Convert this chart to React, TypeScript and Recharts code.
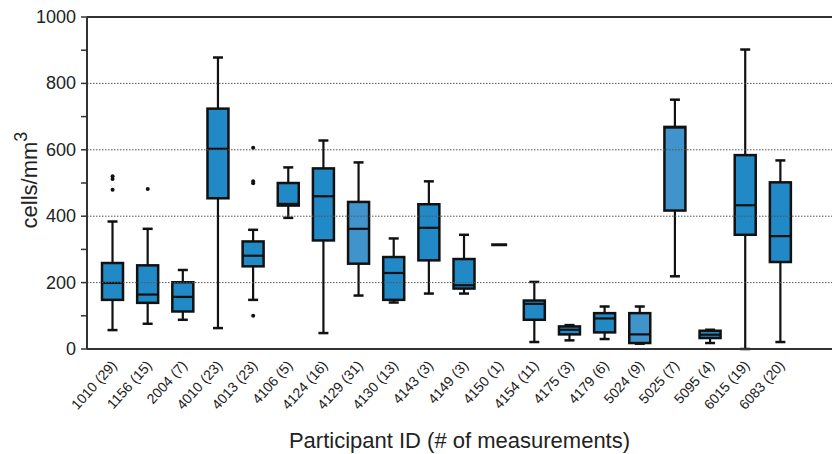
import {
  Bar,
  ComposedChart,
  Label,
  ReferenceLine,
  Scatter,
  XAxis,
  YAxis,
} from "recharts";

const FONT = '"Liberation Sans", Arial, sans-serif';
const BOX = "#2089c6";
const BOX_LIGHT = "#4094cb";

// one entry per participant: label shown as "id (n)"
const ids = ["1010", "1156", "2004", "4010", "4013", "4106", "4124", "4129", "4130", "4143",
  "4149", "4150", "4154", "4175", "4179", "5024", "5025", "5095", "6015", "6083"];
const counts = [29, 15, 7, 23, 23, 5, 16, 31, 13, 3, 3, 1, 11, 3, 6, 9, 7, 4, 19, 20];

const mins = [57, 76, 88, 63, 148, 395, 48, 161, 140, 167, 167, 313, 21, 26, 30, 16, 219, 18, 0, 21];
const q1s = [148, 139, 113, 454, 249, 432, 327, 257, 148, 267, 182, 314, 88, 44, 50, 18, 417, 33, 344, 262];
const medians = [199, 164, 157, 603, 281, 437, 460, 362, 229, 365, 192, 314, 136, 58, 92, 44, 667, 43, 433, 340];
const q3s = [259, 252, 201, 724, 324, 500, 544, 443, 277, 436, 271, 314, 146, 68, 108, 108, 669, 55, 584, 502];
const maxs = [384, 362, 238, 878, 359, 547, 628, 562, 333, 505, 344, 315, 202, 72, 128, 128, 751, 58, 902, 568];
const lighter = ["4129", "5024", "5025"];

// outliers (up to four per participant)
const outlierA = [520, 482, null, null, 606];
const outlierB = [512, null, null, null, 505];
const outlierC = [480, null, null, null, 499];
const outlierD = [null, null, null, null, 100];

const yTicks = [0, 100, 200, 300, 400, 500, 600, 700, 800, 900, 1000];
const gridValues = [200, 400, 600, 800];

const data = ids.map((id, i) => ({
  name: `${id} (${counts[i]})`,
  id,
  range: [mins[i], maxs[i]],
  min: mins[i],
  q1: q1s[i],
  median: medians[i],
  q3: q3s[i],
  max: maxs[i],
  oA: outlierA[i] ?? null,
  oB: outlierB[i] ?? null,
  oC: outlierC[i] ?? null,
  oD: outlierD[i] ?? null,
}));

function BoxShape(props: any) {
  const { x, y, width, height, payload } = props;
  const cx = x + width / 2;
  const top = Math.min(y, y + height);
  const bottom = Math.max(y, y + height);
  const span = payload.max - payload.min;
  const px = (v: number) => bottom - ((v - payload.min) / span) * (bottom - top);
  const fill = lighter.includes(payload.id) ? BOX_LIGHT : BOX;

  if (payload.q3 - payload.q1 < 1) {
    return <line x1={cx - 8} x2={cx + 8} y1={px(payload.median)} y2={px(payload.median)} stroke="#111" strokeWidth={3} />;
  }

  const bw = 21;
  const cap = 10;
  return (
    <g>
      <line x1={cx} x2={cx} y1={top} y2={bottom} stroke="#111" strokeWidth={2.2} />
      <line x1={cx - cap / 2} x2={cx + cap / 2} y1={top} y2={top} stroke="#111" strokeWidth={2.5} />
      <line x1={cx - cap / 2} x2={cx + cap / 2} y1={bottom} y2={bottom} stroke="#111" strokeWidth={2.5} />
      <rect
        x={cx - bw / 2}
        y={px(payload.q3)}
        width={bw}
        height={px(payload.q1) - px(payload.q3)}
        fill={fill}
        stroke="#111"
        strokeWidth={2.5}
      />
      <line x1={cx - bw / 2} x2={cx + bw / 2} y1={px(payload.median)} y2={px(payload.median)} stroke="#111" strokeWidth={2.2} />
    </g>
  );
}

function Dot(props: any) {
  const { cx, cy } = props;
  if (cx == null || cy == null || Number.isNaN(cy)) return <g />;
  return <circle cx={cx} cy={cy} r={2} fill="#111" />;
}

function XTick(props: any) {
  const { x, y, payload } = props;
  return (
    <text
      x={x + 5}
      y={y + 9}
      textAnchor="end"
      fontSize={14}
      fontFamily={FONT}
      fill="#222"
      transform={`rotate(-48 ${x + 5} ${y + 9})`}
    >
      {payload.value}
    </text>
  );
}

function YTick(props: any) {
  const { x, y, payload } = props;
  if (payload.value % 200 !== 0) return <g />;
  return (
    <text x={x - 3} y={y} dy={6} textAnchor="end" fontSize={18} fontFamily={FONT} fill="#222">
      {payload.value}
    </text>
  );
}

function YLabel() {
  return (
    <text
      transform="translate(37 180) rotate(-90)"
      textAnchor="middle"
      fontSize={22}
      fontFamily={FONT}
      fill="#222"
    >
      cells/mm
      <tspan dy={-10} fontSize={18}>3</tspan>
    </text>
  );
}

export default function App() {
  return (
    <div style={{ position: "absolute", left: 0, top: 0, background: "#fff" }}>
      <ComposedChart
        width={832}
        height={454}
        data={data}
        margin={{ top: 17, right: 0, bottom: 0, left: 0 }}
      >
        {gridValues.map((v) => (
          <ReferenceLine key={v} y={v} stroke="#555" strokeWidth={1} strokeDasharray="1.5 1.5" />
        ))}
        <ReferenceLine y={1000} stroke="#333" strokeWidth={2} />
        <XAxis
          dataKey="name"
          type="category"
          interval={0}
          padding={{ left: 8, right: 34 }}
          height={105}
          tick={<XTick />}
          tickLine={false}
          axisLine={{ stroke: "#333", strokeWidth: 2 }}
        >
          <Label
            value="Participant ID (# of measurements)"
            position="insideBottom"
            offset={6}
            fontSize={22}
            fontFamily={FONT}
            fill="#222"
          />
        </XAxis>
        <YAxis
          type="number"
          domain={[0, 1000]}
          ticks={yTicks}
          interval={0}
          width={87}
          tick={<YTick />}
          tickSize={6}
          tickLine={{ stroke: "#333", strokeWidth: 1.5 }}
          axisLine={{ stroke: "#333", strokeWidth: 2 }}
          label={<YLabel />}
        />
        <Bar dataKey="range" shape={<BoxShape />} isAnimationActive={false} />
        <Scatter dataKey="oA" shape={<Dot />} isAnimationActive={false} />
        <Scatter dataKey="oB" shape={<Dot />} isAnimationActive={false} />
        <Scatter dataKey="oC" shape={<Dot />} isAnimationActive={false} />
        <Scatter dataKey="oD" shape={<Dot />} isAnimationActive={false} />
      </ComposedChart>
    </div>
  );
}
